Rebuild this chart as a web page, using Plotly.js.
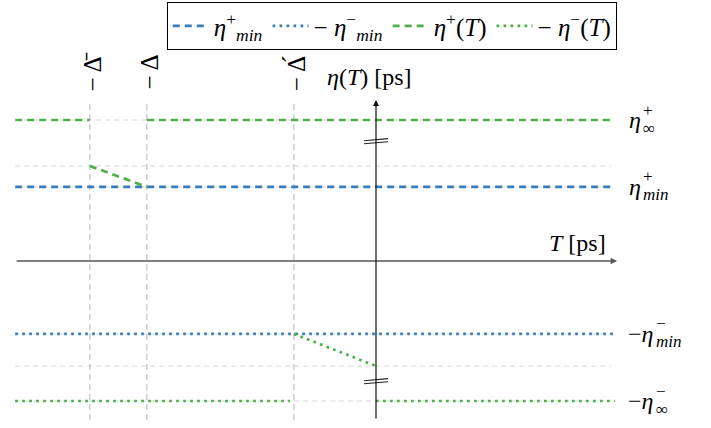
<!DOCTYPE html>
<html>
<head>
<meta charset="utf-8">
<script src="https://cdn.plot.ly/plotly-3.0.1.min.js"></script>
<style>
  html, body { margin: 0; padding: 0; background: #fff; }
  #plot { width: 711px; height: 428px; }
</style>
</head>
<body>
<div id="plot"></div>
<script>
// T positions (ps, schematic)
const tLeft = -6.33;
const tRight = 4.19;
const tEnd = 4.12;
const dBar = -5.02;    // -Δ̄
const dMid = -4.02;    // -Δ
const dPrime = -1.44;  // -Δ'

// eta levels (ps, schematic)
const etaInfP = 10.07;
const etaJumpP = 6.79;
const etaMinP = 5.29;
const etaMinM = -5.21;
const etaZeroM = -7.5;
const etaInfM = -10.0;

// series
const etaPlusX = [tLeft, dBar, null, dBar, dMid, null, dMid, tRight];
const etaPlusY = [etaInfP, etaInfP, null, etaJumpP, etaMinP, null, etaInfP, etaInfP];
const etaMinusX = [tLeft, dPrime - 0.07, null, dPrime, 0, null, 0, tRight];
const etaMinusY = [etaInfM, etaInfM, null, etaMinM, etaZeroM, null, etaInfM, etaInfM];

const guideLevels = [etaInfP, etaJumpP, etaMinP, etaMinM, etaZeroM, etaInfM];
const guideTs = [dBar, dMid, dPrime];
const guideTop = 11.29;
const guideBottom = -11.36;

const blue = "#377eb8";
const green = "#4daf4a";
const serif = "Liberation Serif";

const traces = [];

// gray helper lines
guideLevels.forEach(v => {
    traces.push({
        x: [tLeft, tEnd], y: [v, v], mode: "lines", showlegend: false, hoverinfo: "skip",
        line: { color: "#d6d6d6", width: 1, dash: "5px,4px" }
    });
});
guideTs.forEach(t => {
    traces.push({
        x: [t, t], y: [guideBottom, guideTop], mode: "lines", showlegend: false, hoverinfo: "skip",
        line: { color: "#b4b4b4", width: 1, dash: "6px,4px" }
    });
});

// axis break marks
[8.57, -8.57].forEach(yc => {
    traces.push({
        x: [-0.21, 0.21, null, -0.21, 0.21],
        y: [yc + 0.02, yc + 0.17, null, yc - 0.2, yc - 0.05],
        mode: "lines", showlegend: false, hoverinfo: "skip",
        line: { color: "#222", width: 1.1 }
    });
});

traces.push({
    x: [tLeft, tEnd], y: [etaMinP, etaMinP], mode: "lines", hoverinfo: "skip",
    name: "<i>η</i><sup>+</sup><sub><i>min</i></sub>",
    line: { color: blue, width: 2.7, dash: "7px,5px" }
});
traces.push({
    x: [tLeft, tRight], y: [etaMinM, etaMinM], mode: "lines", hoverinfo: "skip",
    name: "− <i>η</i><sup>−</sup><sub><i>min</i></sub>",
    line: { color: blue, width: 2.7, dash: "2.7px,4.3px" }
});
traces.push({
    x: etaPlusX, y: etaPlusY, mode: "lines", hoverinfo: "skip", connectgaps: false,
    name: "<i>η</i><sup>+</sup>(<i>T</i>)",
    line: { color: green, width: 2.7, dash: "7px,5px" }
});
traces.push({
    x: etaMinusX, y: etaMinusY, mode: "lines", hoverinfo: "skip", connectgaps: false,
    name: "− <i>η</i><sup>−</sup>(<i>T</i>)",
    line: { color: green, width: 2.7, dash: "2.7px,4.3px" }
});

function txt(x, y, text, opts) {
    return Object.assign({
        x: x, y: y, xref: "x", yref: "y", text: text, showarrow: false,
        font: { family: serif, size: 24, color: "#000" }
    }, opts || {});
}

// stacked super/subscript label at right side
function stacked(x, y, base, sup, sub, baseW) {
    return [
        txt(x, y, base, { xanchor: "left", yanchor: "middle" }),
        txt(x, y, sup, { xanchor: "left", yanchor: "middle", xshift: baseW, yshift: 10,
            font: { family: serif, size: 17, color: "#000" } }),
        txt(x, y, sub, { xanchor: "left", yanchor: "middle", xshift: baseW, yshift: -8,
            font: { family: serif, size: 17, color: "#000" } })
    ];
}

const labelX = 4.40;
const annotations = [
    // T axis
    { x: 4.23, y: 0, ax: tLeft, ay: 0, xref: "x", yref: "y", axref: "x", ayref: "y",
      text: "", showarrow: true, arrowhead: 2, arrowsize: 1, arrowwidth: 1.3, arrowcolor: "#555" },
    // eta axis
    { x: 0, y: 11.5, ax: 0, ay: guideBottom, xref: "x", yref: "y", axref: "x", ayref: "y",
      text: "", showarrow: true, arrowhead: 2, arrowsize: 1, arrowwidth: 1.2, arrowcolor: "#111" },
    txt(3.54, 1.29, "<i>T</i> [ps]"),
    txt(-0.12, 13.14, "<i>η</i>(<i>T</i>) [ps]"),
    txt(dBar + 0.03, 13.5, "−\u2009Δ̄", { textangle: -90, font: { family: serif, size: 25, color: "#000" } }),
    txt(dMid + 0.03, 13.5, "−\u2009Δ", { textangle: -90, font: { family: serif, size: 25, color: "#000" } }),
    txt(dPrime + 0.03, 13.39, "−\u2009Δ́", { textangle: -90, font: { family: serif, size: 25, color: "#000" } })
].concat(
    stacked(labelX, etaInfP, "<i>η</i>", "+", "∞", 14),
    stacked(labelX, etaMinP, "<i>η</i>", "+", "<i>min</i>", 14),
    stacked(labelX - 0.02, etaMinM, "−<i>η</i>", "−", "<i>min</i>", 28),
    stacked(labelX - 0.02, etaInfM, "−<i>η</i>", "−", "∞", 28)
);

const layout = {
    width: 711,
    height: 428,
    margin: { l: 0, r: 0, t: 0, b: 0 },
    paper_bgcolor: "#fff",
    plot_bgcolor: "#fff",
    font: { family: serif, color: "#000" },
    xaxis: { range: [-376 / 57, 335 / 57], visible: false, fixedrange: true },
    yaxis: { range: [-167 / 14, 261 / 14], visible: false, fixedrange: true },
    showlegend: true,
    legend: {
        orientation: "h",
        x: 0.551, xanchor: "center",
        y: 0.995, yanchor: "top",
        bgcolor: "#fff",
        bordercolor: "#000",
        borderwidth: 1,
        font: { family: serif, size: 25, color: "#000" },
        itemwidth: 36,
        tracegroupgap: 0
    },
    annotations: annotations,
    hovermode: false
};

Plotly.newPlot("plot", traces, layout, { staticPlot: true });
</script>
</body>
</html>
